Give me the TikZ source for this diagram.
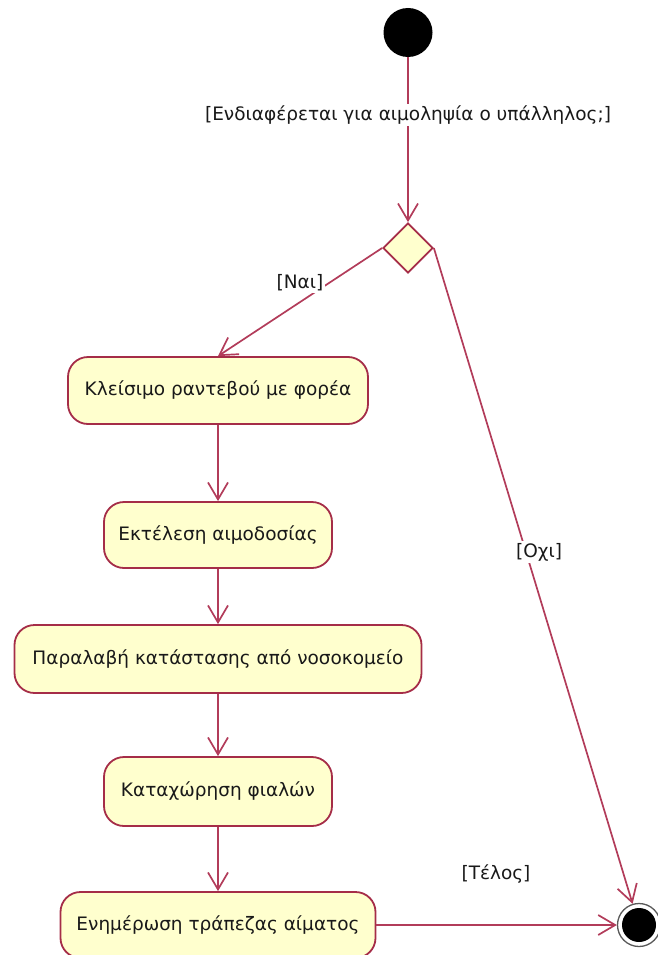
\documentclass[tikz,border=0pt]{standalone}
\usepackage{fontspec}
\setmainfont{DejaVu Sans}
\usetikzlibrary{arrows.meta,shapes.geometric}
\definecolor{lnc}{RGB}{178,60,90}
\definecolor{bdc}{RGB}{165,45,72}
\definecolor{fillc}{RGB}{255,255,206}
\definecolor{txc}{RGB}{25,25,25}
\tikzset{
  txtfont/.style={font=\fontsize{18.5}{21}\selectfont},
  act/.style={draw=bdc, fill=fillc, line width=1.8pt, rounded corners=20pt,
    minimum height=67pt, inner sep=0pt, text=txc, txtfont},
  conn/.style={draw=lnc, line width=1.7pt, -{Straight Barb[length=17pt,width=20pt,line width=1.7pt]}},
  lbl/.style={fill=white, inner sep=2pt, text=txc, txtfont},
  dec/.style={diamond, draw=bdc, fill=fillc, line width=1.7pt, minimum width=50pt, minimum height=50pt, inner sep=0pt}
}
\begin{document}
\begin{tikzpicture}[x=1pt,y=-1pt]
\useasboundingbox (0,0) rectangle (657,955);
\node[circle, fill=black, minimum size=49pt, inner sep=0pt] (start) at (408,32.5) {};
\node[dec] (d) at (408,248) {};
\node[act, minimum width=300pt] (b1) at (218,390.5) {Κλείσιμο ραντεβού με φορέα};
\node[act, minimum width=228pt, minimum height=66pt] (b2) at (218,535) {Εκτέλεση αιμοδοσίας};
\node[act, minimum width=407pt, minimum height=68pt] (b3) at (218,659) {Παραλαβή κατάστασης από νοσοκομείο};
\node[act, minimum width=228pt, minimum height=69pt] (b4) at (218,791.5) {Καταχώρηση φιαλών};
\node[act, minimum width=315pt, minimum height=66pt] (b5) at (218,925) {Ενημέρωση τράπεζας αίματος};
\node[circle, draw=black!65, line width=1.3pt, fill=white, minimum size=43pt, inner sep=0pt] (end) at (639,925) {};
\node[circle, fill=black, minimum size=34pt, inner sep=0pt] (endin) at (end.center) {};

\draw[conn] (start) -- node[lbl, pos=0.35] {[Ενδιαφέρεται για αιμοληψία ο υπάλληλος;]} (d.north);
\draw[conn] (d.west) -- (b1.north);
\node[lbl] (lnai) at (300,283) {[Ναι]};
\draw[conn] (d.east) -- (end);
\node[lbl] (lochi) at (539,552) {[Οχι]};
\draw[conn] (b1) -- (b2);
\draw[conn] (b2) -- (b3);
\draw[conn] (b3) -- (b4);
\draw[conn] (b4) -- (b5);
\draw[conn] (b5.east) -- (end.west);
\node[text=txc, txtfont] (ltel) at (496,874) {[Τέλος]};
\end{tikzpicture}
\end{document}
